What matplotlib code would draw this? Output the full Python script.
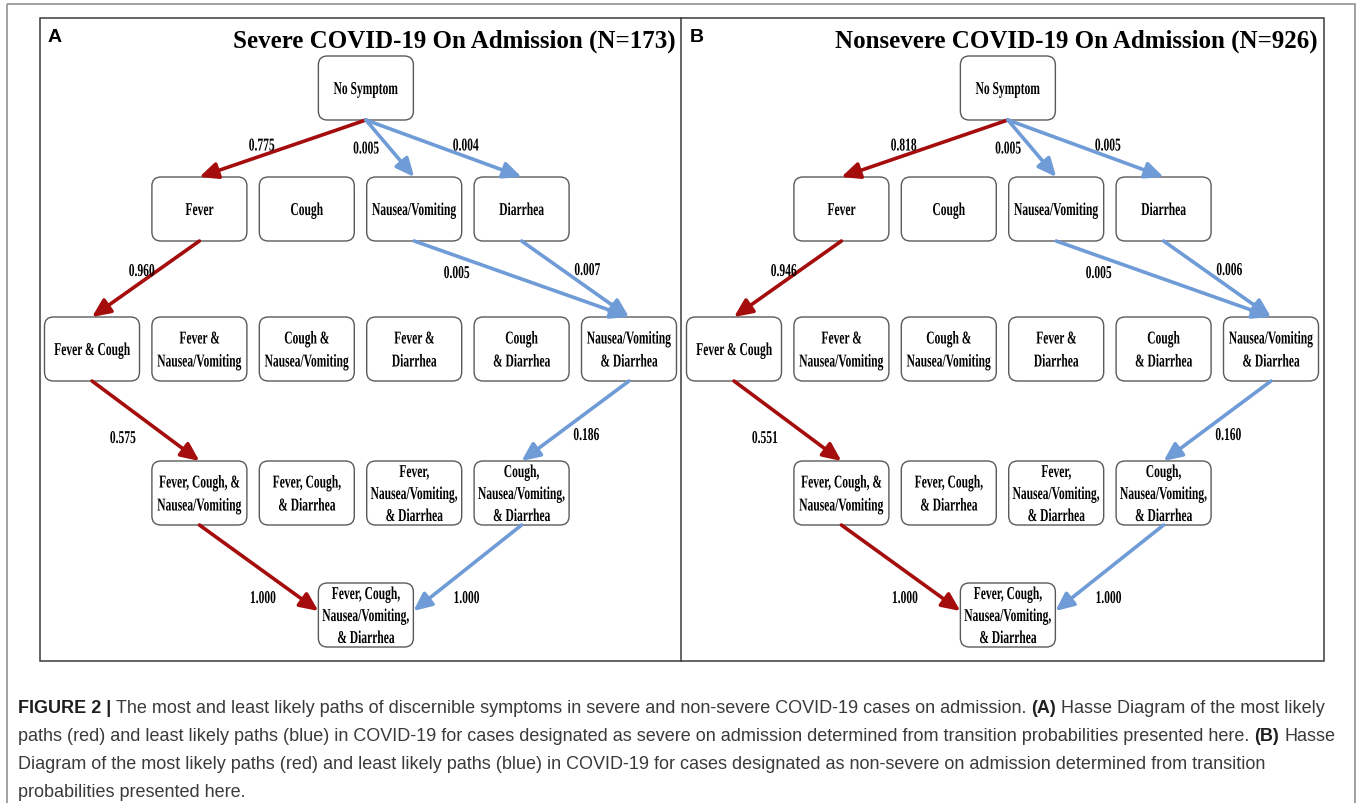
import matplotlib
matplotlib.use("Agg")
import matplotlib.pyplot as plt
from matplotlib.patches import FancyBboxPatch, FancyArrowPatch, Rectangle
from matplotlib.patheffects import AbstractPathEffect
from matplotlib.transforms import Affine2D

# ---- data ----
node_labels = [
    "No Symptom",
    "Fever", "Cough", "Nausea/Vomiting", "Diarrhea",
    "Fever & Cough", "Fever &\nNausea/Vomiting", "Cough &\nNausea/Vomiting",
    "Fever &\nDiarrhea", "Cough\n& Diarrhea", "Nausea/Vomiting\n& Diarrhea",
    "Fever, Cough, &\nNausea/Vomiting", "Fever, Cough,\n& Diarrhea",
    "Fever,\nNausea/Vomiting,\n& Diarrhea", "Cough,\nNausea/Vomiting,\n& Diarrhea",
    "Fever, Cough,\nNausea/Vomiting,\n& Diarrhea",
]
node_col = [2.55, 1, 2, 3, 4, 0, 1, 2, 3, 4, 5, 1, 2, 3, 4, 2.55]
node_row = [0, 1, 1, 1, 1, 2, 2, 2, 2, 2, 2, 3, 3, 3, 3, 4]

edge_src = [0, 0, 0, 1, 3, 4, 5, 10, 11, 14]
edge_dst = [1, 3, 4, 5, 10, 10, 11, 14, 15, 15]
edge_kind = ["most", "least", "least", "most", "least", "least", "most", "least", "most", "least"]

panel_letters = ["A", "B"]
panel_titles = ["Severe COVID-19 On Admission (N=173)", "Nonsevere COVID-19 On Admission (N=926)"]
panel_probs = [
    [0.775, 0.005, 0.004, 0.960, 0.005, 0.007, 0.575, 0.186, 1.000, 1.000],
    [0.818, 0.005, 0.005, 0.946, 0.005, 0.006, 0.551, 0.160, 1.000, 1.000],
]

caption_lines = [
    [("FIGURE 2 |", True), ("The most and least likely paths of discernible symptoms in severe and "
                            "non-severe COVID-19 cases on admission.", False), ("(A)", True),
     ("Hasse Diagram of the most likely", False)],
    [("paths (red) and least likely paths (blue) in COVID-19 for cases designated as severe on "
      "admission determined from transition probabilities presented here.", False), ("(B)", True),
     ("Hasse", False)],
    [("Diagram of the most likely paths (red) and least likely paths (blue) in COVID-19 for cases "
      "designated as non-severe on admission determined from transition", False)],
    [("probabilities presented here.", False)],
]

# ---- layout / style ----
W, H = 1357, 804
col_x0, col_dx = 92, 107.4
row_y = [89, 210, 350, 494, 616]
box_w, box_h = 95, 64
panel_dx = 642
line_gap = 23
label_off = [(-21, -4), (-24, -1), (22, -4), (-4, -9), (-65, -7),
             (12, -10), (-23, 16), (11, 13), (4, 29), (-1, 29)]
colors = {"most": "#a50d0d", "least": "#6f9bd6"}
SERIF = "Liberation Serif"
SANS = "Liberation Sans"
NARROW_PT = 8.3      # sets the glyph widths
STRETCH = 1.57       # tall, narrow Times look of the original


class Tall(AbstractPathEffect):
    """Stretch glyphs vertically about the baseline (narrow Times look)."""

    def __init__(self, sy=STRETCH):
        super().__init__()
        self.sy = sy

    def draw_path(self, renderer, gc, tpath, affine, rgbFace=None):
        y0 = affine.transform((0, 0))[1]
        t = affine + Affine2D().translate(0, -y0).scale(1, self.sy).translate(0, y0)
        renderer.draw_path(gc, tpath, t, rgbFace)


def narrow_text(x, y, s, **kw):
    ax.text(x, y, s, ha="center", va="baseline", fontsize=NARROW_PT, fontweight="bold",
            family=SERIF, color="black", path_effects=[Tall()], **kw)


fig = plt.figure(figsize=(W / 100, H / 100), dpi=100)
ax = fig.add_axes([0, 0, 1, 1])
ax.set_xlim(0, W)
ax.set_ylim(H, 0)
ax.axis("off")

# outer page frame and panel frame
ax.add_patch(Rectangle((7, 5), 1348, 810, fill=False, ec="#9a9a9a", lw=1.3))
ax.add_patch(Rectangle((40, 19), 1284, 643, fill=False, ec="#3a3a3a", lw=1.1))
ax.plot([681, 681], [19, 662], color="#3a3a3a", lw=1.1)


def node_xy(i, off):
    return off + col_x0 + node_col[i] * col_dx, row_y[node_row[i]]


for p in range(2):
    off = p * panel_dx
    # boxes
    for i, lab in enumerate(node_labels):
        cx, cy = node_xy(i, off)
        ax.add_patch(FancyBboxPatch((cx - box_w / 2, cy - box_h / 2), box_w, box_h,
                                    boxstyle="round,pad=0,rounding_size=9",
                                    fc="white", ec="#5a5a5a", lw=1.0, zorder=2))
        lines = lab.split("\n")
        n = len(lines)
        gap = line_gap if n < 3 else 22
        for j, ln in enumerate(lines):
            narrow_text(cx, cy + (j - (n - 1) / 2) * gap + 6, ln, zorder=3)
    # arrows
    for k in range(len(edge_src)):
        s, d = edge_src[k], edge_dst[k]
        sx, sy = node_xy(s, off)
        dx, dy = node_xy(d, off)
        start = (sx, sy + box_h / 2)
        if node_row[d] == 4:
            side = -1 if sx < dx else 1
            end = (dx + side * box_w / 2, dy - 4)
        else:
            end = (dx, dy - box_h / 2)
        ax.add_patch(FancyArrowPatch(start, end, arrowstyle="-|>,head_length=0.55,head_width=0.25",
                                     mutation_scale=20, lw=2.6, color=colors[edge_kind[k]],
                                     shrinkA=0, shrinkB=0, zorder=4))
        mx = (start[0] + end[0]) / 2 + label_off[k][0]
        my = (start[1] + end[1]) / 2 + label_off[k][1]
        narrow_text(mx, my + 6, f"{panel_probs[p][k]:.3f}", zorder=5)
    ax.text(48 + off, 38, panel_letters[p], ha="left", va="center", fontsize=14,
            fontweight="bold", family=SANS)
    ax.text(676 + off, 41, panel_titles[p], ha="right", va="center", fontsize=18,
            fontweight="bold", family=SERIF)

# caption, mixed bold / regular runs
fig.canvas.draw()
rend = fig.canvas.get_renderer()
CAP_PT = 13.0


def text_w(s, bold):
    t = ax.text(0, 0, s, fontsize=CAP_PT, family=SANS, fontweight="bold" if bold else "normal")
    w = t.get_window_extent(rend).width
    t.remove()
    return w


space_w = text_w("x x", False) - text_w("xx", False)
base_y = [713, 741, 769, 797]
for li, runs in enumerate(caption_lines):
    x = 18
    for j, (s, bold) in enumerate(runs):
        if j > 0:
            x += space_w
        ax.text(x, base_y[li], s, ha="left", va="baseline", fontsize=CAP_PT, family=SANS,
                fontweight="bold" if bold else "normal",
                color="#1e1e1e" if bold else "#3a3a3a")
        x += text_w(s, bold)

fig.savefig("out.png", dpi=100)
